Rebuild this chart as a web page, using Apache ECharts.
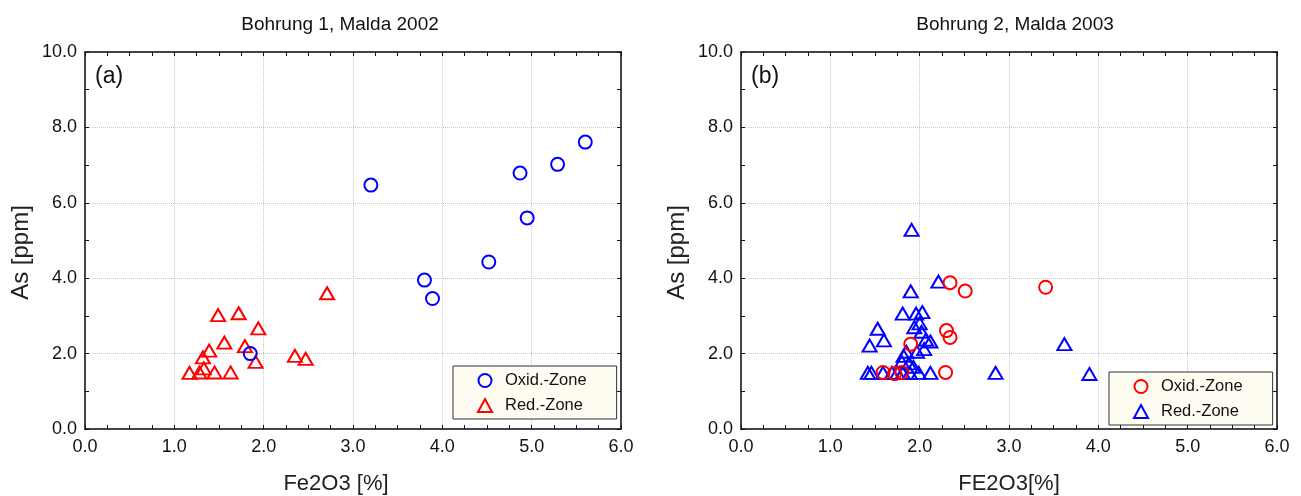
<!DOCTYPE html>
<html><head><meta charset="utf-8">
<script src="https://cdn.jsdelivr.net/npm/echarts@6/dist/echarts.min.js"></script>
<style>html,body{margin:0;padding:0;background:#fff}#c{width:1301px;height:496px}</style>
</head><body><div id="c"></div>
<script>
const titles = ['Bohrung 1, Malda 2002', 'Bohrung 2, Malda 2003'];
const xNames = ['Fe2O3 [%]', 'FE2O3[%]'];
const yName = 'As [ppm]';
const panelLabels = ['(a)', '(b)'];
const seriesNames = ['Oxid.-Zone', 'Red.-Zone'];

// Plot (a)
const oxidA = [[1.85,2.0],[3.2,6.47],[3.8,3.95],[3.89,3.46],[4.52,4.43],[4.87,6.79],[4.95,5.6],[5.29,7.02],[5.6,7.61]];
const redA = [[2.71,3.6],[1.49,3.02],[1.72,3.07],[1.94,2.67],[1.56,2.29],[1.79,2.2],[1.39,2.08],[1.32,1.9],[1.91,1.78],
  [2.35,1.94],[2.47,1.86],[1.33,1.61],[1.17,1.49],[1.28,1.5],[1.45,1.5],[1.63,1.5]];
// Plot (b)
const oxidB = [[1.59,1.5],[1.72,1.47],[1.8,1.5],[1.9,2.25],[2.29,1.5],[2.3,2.61],[2.34,2.43],[2.34,3.88],[2.51,3.66],[3.41,3.76]];
const redB = [[1.91,5.28],[2.21,3.91],[1.9,3.65],[1.81,3.06],[1.96,3.06],[2.03,3.1],[1.53,2.66],[1.6,2.35],[1.44,2.21],
  [1.94,2.7],[2.0,2.8],[2.02,2.58],[2.07,2.37],[2.12,2.32],[2.05,2.12],[1.97,2.05],[1.85,2.05],[1.82,1.94],[1.8,1.78],
  [1.88,1.74],[1.93,1.65],[1.42,1.49],[1.46,1.49],[1.59,1.49],[1.69,1.49],[1.75,1.49],[1.81,1.49],[1.89,1.49],[1.99,1.49],
  [2.12,1.49],[2.85,1.49],[3.62,2.25],[3.9,1.46]];

const FONT = 'Liberation Sans, Arial, sans-serif';
const chart = echarts.init(document.getElementById('c'), null, {renderer:'canvas'});

const grids = [
  {left:85, right:680, top:52, bottom:67, outerBoundsMode:'none', containLabel:false},
  {left:741, right:24, top:52, bottom:67, outerBoundsMode:'none', containLabel:false}
];
const xNamePad = [[0,34,0,0],[0,0,0,0]];
const fmt = v => v.toFixed(1);
const xAxis = [], yAxis = [];
[0,1].forEach(i => {
  xAxis.push({
    type:'value', gridIndex:i, min:0, max:6, interval:1, position:'bottom',
    name: xNames[i], nameLocation:'middle', nameGap:44,
    nameTextStyle:{fontFamily:FONT, fontSize:22, color:'#222', padding:xNamePad[i]},
    axisLine:{show:true, onZero:false, lineStyle:{color:'#444', width:2}},
    axisTick:{show:true, inside:true, length:4, lineStyle:{color:'#111'}},
    minorTick:{show:true, splitNumber:4, length:4, lineStyle:{color:'#111'}},
    axisLabel:{formatter:fmt, fontFamily:FONT, fontSize:18, color:'#111', margin:9},
    splitLine:{show:true, lineStyle:{color:'#c8c8c8', type:'dotted', width:1}}
  });
  xAxis.push({
    type:'value', gridIndex:i, min:0, max:6, interval:1, position:'top',
    axisLine:{show:true, onZero:false, lineStyle:{color:'#444', width:2}},
    axisTick:{show:true, inside:true, length:4, lineStyle:{color:'#111'}},
    minorTick:{show:true, splitNumber:4, length:4, lineStyle:{color:'#111'}},
    axisLabel:{show:false}, splitLine:{show:false}
  });
  yAxis.push({
    type:'value', gridIndex:i, min:0, max:10, interval:2, position:'left',
    name: yName, nameLocation:'middle', nameGap:52,
    nameTextStyle:{fontFamily:FONT, fontSize:24, color:'#222', padding:[0,24,0,0]},
    axisLine:{show:true, onZero:false, lineStyle:{color:'#444', width:2}},
    axisTick:{show:true, inside:true, length:4, lineStyle:{color:'#111'}},
    minorTick:{show:true, splitNumber:2, length:4, lineStyle:{color:'#111'}},
    axisLabel:{formatter:fmt, fontFamily:FONT, fontSize:18, color:'#111', margin:8},
    splitLine:{show:true, lineStyle:{color:'#c8c8c8', type:'dotted', width:1}}
  });
  yAxis.push({
    type:'value', gridIndex:i, min:0, max:10, interval:2, position:'right',
    axisLine:{show:true, onZero:false, lineStyle:{color:'#444', width:2}},
    axisTick:{show:true, inside:true, length:4, lineStyle:{color:'#111'}},
    minorTick:{show:true, splitNumber:2, length:4, lineStyle:{color:'#111'}},
    axisLabel:{show:false}, splitLine:{show:false}
  });
});

function sc(name, data, sym, color, gi) {
  return {
    type:'scatter', name:name, xAxisIndex:gi*2, yAxisIndex:gi*2, data:data,
    symbol:sym, symbolSize: sym==='circle' ? 13 : [14,12],
    itemStyle:{color:'rgba(0,0,0,0)', borderColor:color, borderWidth:2, opacity:1},
    emphasis:{disabled:true}, z:3
  };
}
const series = [
  sc(seriesNames[1], redA, 'triangle', '#ff0000', 0),
  sc(seriesNames[0], oxidA, 'circle', '#0000ff', 0),
  sc(seriesNames[1] + ' ', redB, 'triangle', '#0000ff', 1),
  sc(seriesNames[0] + ' ', oxidB, 'circle', '#ff0000', 1)
];

const legendBase = {
  orient:'vertical', itemWidth:14, itemHeight:13, itemGap:8,
  backgroundColor:'#fffcf2', borderColor:'#333', borderWidth:1,
  padding:[6,30,5,24], selectedMode:false,
  textStyle:{fontFamily:FONT, fontSize:16.5, color:'#111', padding:[0,0,0,8]},
  formatter: n => n.trim()
};

chart.setOption({
  animation:false,
  title:[
    {text:titles[0], left:335, top:10, textAlign:'center', textStyle:{fontFamily:FONT, fontSize:19, fontWeight:'normal', color:'#111'}},
    {text:titles[1], left:1010, top:10, textAlign:'center', textStyle:{fontFamily:FONT, fontSize:19, fontWeight:'normal', color:'#111'}}
  ],
  grid: grids,
  xAxis: xAxis, yAxis: yAxis,
  legend:[
    Object.assign({}, legendBase, {left:453, top:366, data:[seriesNames[0], seriesNames[1]]}),
    Object.assign({}, legendBase, {left:1109, top:372, data:[seriesNames[0]+' ', seriesNames[1]+' ']})
  ],
  graphic:[
    {type:'text', left:95, top:65, style:{text:panelLabels[0], font:'23px '+FONT, fill:'#111'}},
    {type:'text', left:751, top:65, style:{text:panelLabels[1], font:'23px '+FONT, fill:'#111'}}
  ],
  series: series
});
</script></body></html>
